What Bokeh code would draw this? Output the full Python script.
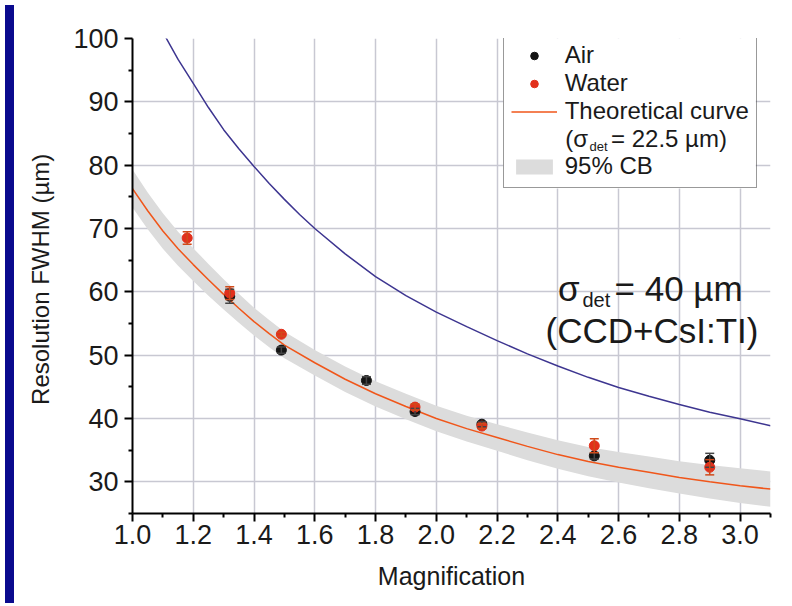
from bokeh.plotting import figure
from bokeh.models import (ColumnDataSource, Whisker, TeeHead, Legend, LegendItem, Label,
                          FixedTicker, Range1d, Div, BoxAnnotation)
from bokeh.layouts import row, column
from bokeh.embed import file_html
from bokeh.resources import INLINE

# ---------------- data ----------------
air_mag = [1.32, 1.49, 1.77, 1.93, 2.15, 2.52, 2.90]
air_fwhm = [59.3, 50.8, 46.0, 41.1, 39.1, 34.1, 33.4]
air_err = [1.1, 0.5, 0.6, 0.5, 0.4, 0.5, 1.1]

water_mag = [1.18, 1.32, 1.49, 1.93, 2.15, 2.52, 2.90]
water_fwhm = [68.5, 59.8, 53.3, 41.8, 38.8, 35.7, 32.3]
water_err = [1.0, 1.0, 0.3, 0.5, 0.4, 1.1, 1.2]

curve_mag = [1.0, 1.05, 1.1, 1.15, 1.2, 1.25, 1.3, 1.35, 1.4, 1.45, 1.5, 1.6, 1.7, 1.8, 1.9, 2.0,
             2.1, 2.2, 2.3, 2.4, 2.5, 2.6, 2.7, 2.8, 2.9, 3.0, 3.1]
theory_22 = [76.3, 72.8, 69.6, 66.8, 64.3, 61.9, 59.6, 57.4, 55.3, 53.4, 51.6, 48.8, 46.2, 43.9,
             41.9, 40.0, 38.4, 37.0, 35.6, 34.3, 33.2, 32.3, 31.5, 30.7, 30.0, 29.4, 28.85]
band_lower = [73.3, 69.9, 66.8, 64.1, 61.7, 59.4, 57.2, 55.1, 53.1, 51.25, 49.5, 46.8, 44.2, 41.9,
              39.9, 38.0, 36.35, 34.9, 33.4, 32.05, 30.9, 29.9, 29.0, 28.15, 27.35, 26.65, 26.05]
band_upper = [79.3, 75.7, 72.4, 69.5, 66.9, 64.4, 62.0, 59.7, 57.5, 55.55, 53.7, 50.8, 48.2, 45.9,
              43.9, 42.0, 40.45, 39.1, 37.8, 36.55, 35.5, 34.7, 34.0, 33.25, 32.65, 32.15, 31.65]

blue_mag = [1.10, 1.15, 1.2, 1.25, 1.3, 1.35, 1.4, 1.45, 1.5, 1.55, 1.6, 1.7, 1.8, 1.9, 2.0,
            2.1, 2.2, 2.3, 2.4, 2.5, 2.6, 2.7, 2.8, 2.9, 3.0, 3.1]
theory_40 = [101.0, 96.7, 92.9, 89.1, 85.6, 82.6, 79.8, 77.1, 74.6, 72.2, 70.0, 66.0, 62.4,
             59.4, 56.8, 54.5, 52.3, 50.2, 48.3, 46.5, 44.9, 43.5, 42.2, 41.0, 39.95, 38.85]

x_ticks = [1.0, 1.2, 1.4, 1.6, 1.8, 2.0, 2.2, 2.4, 2.6, 2.8, 3.0]
x_minor = [1.1, 1.3, 1.5, 1.7, 1.9, 2.1, 2.3, 2.5, 2.7, 2.9, 3.1]
y_ticks = [30, 40, 50, 60, 70, 80, 90, 100]
y_minor = [25, 35, 45, 55, 65, 75, 85, 95]

FONT = "Liberation Sans"
TXT = "#1a1a1a"
RED = "#e2301c"
CURVE_RED = "#f0561a"
BLUE = "#3d3590"
NAVY = "#0a0a8e"

W, H = 767, 598
p = figure(width=W, height=H, output_backend="svg", toolbar_location=None,
           x_range=Range1d(1.0, 3.1), y_range=Range1d(25, 100),
           min_border_left=113, min_border_right=16, min_border_top=38, min_border_bottom=85)
p.outline_line_color = None
p.background_fill_color = "white"
p.border_fill_color = "white"

# grid
p.xgrid.ticker = FixedTicker(ticks=x_ticks)
p.ygrid.ticker = FixedTicker(ticks=y_ticks)
for g in (p.xgrid, p.ygrid):
    g.grid_line_color = "#c8c8d2"
    g.grid_line_width = 1.5

# axes
p.xaxis.ticker = FixedTicker(ticks=x_ticks, minor_ticks=x_minor)
p.yaxis.ticker = FixedTicker(ticks=y_ticks, minor_ticks=y_minor)
p.xaxis.major_label_overrides = {t: f"{t:.1f}" for t in x_ticks}
for ax in (p.xaxis[0], p.yaxis[0]):
    ax.axis_line_color = "black"
    ax.axis_line_width = 2
    ax.major_tick_line_color = "black"
    ax.major_tick_line_width = 2
    ax.minor_tick_line_color = "black"
    ax.minor_tick_line_width = 2
    ax.major_tick_in = 0
    ax.major_tick_out = 8
    ax.minor_tick_in = 0
    ax.minor_tick_out = 4
    ax.major_label_text_font = FONT
    ax.major_label_text_font_size = "27px"
    ax.major_label_text_color = TXT
    ax.axis_label_text_font = FONT
    ax.axis_label_text_font_style = "normal"
    ax.axis_label_text_color = TXT
p.xaxis.major_label_standoff = 3
p.yaxis.major_label_standoff = 6
p.xaxis.axis_label = "Magnification"
p.xaxis.axis_label_text_font_size = "25px"
p.xaxis.axis_label_standoff = 15
p.yaxis.axis_label = "Resolution FWHM  (\u00b5m)"
p.yaxis.axis_label_text_font_size = "24px"
p.yaxis.axis_label_standoff = 16

FRAME_L, FRAME_B = 130.0, 513.3   # screen position of frame's left / bottom
LEG_L, LEG_R, LEG_T, LEG_B = 500.7, 753.3, 38.3, 188.3

# white background of the legend box (covers the grid)
p.add_layout(BoxAnnotation(left=LEG_L - FRAME_L, right=LEG_R - FRAME_L,
                           bottom=FRAME_B - LEG_B, top=FRAME_B - LEG_T,
                           left_units="screen", right_units="screen",
                           top_units="screen", bottom_units="screen",
                           fill_color="white", fill_alpha=1, line_alpha=0, level="underlay"))

# band + curves
band_src = ColumnDataSource(dict(x=curve_mag, lo=band_lower, hi=band_upper))
band_r = p.varea(x="x", y1="lo", y2="hi", source=band_src, fill_color="#dcdcdc")
red_r = p.line(curve_mag, theory_22, line_color=CURVE_RED, line_width=1.5)
p.line(blue_mag, theory_40, line_color=BLUE, line_width=1.5)

# points with error bars
air_src = ColumnDataSource(dict(x=air_mag, y=air_fwhm,
                                lo=[v - e for v, e in zip(air_fwhm, air_err)],
                                hi=[v + e for v, e in zip(air_fwhm, air_err)]))
water_src = ColumnDataSource(dict(x=water_mag, y=water_fwhm,
                                  lo=[v - e for v, e in zip(water_fwhm, water_err)],
                                  hi=[v + e for v, e in zip(water_fwhm, water_err)]))

air_r = p.scatter("x", "y", source=air_src, size=10, fill_color="#141414", line_color="#141414")
p.add_layout(Whisker(source=air_src, base="x", lower="lo", upper="hi", dimension="height",
                     line_color="#444444", line_width=1.5, level="glyph",
                     lower_head=TeeHead(size=9, line_color="#444444", line_width=1.5),
                     upper_head=TeeHead(size=9, line_color="#444444", line_width=1.5)))
water_r = p.scatter("x", "y", source=water_src, size=10, fill_color=RED, line_color=RED)
p.add_layout(Whisker(source=water_src, base="x", lower="lo", upper="hi", dimension="height",
                     line_color="#d04a1a", line_width=1.5, level="glyph",
                     lower_head=TeeHead(size=9, line_color="#d04a1a", line_width=1.5),
                     upper_head=TeeHead(size=9, line_color="#d04a1a", line_width=1.5)))

dummy_r = p.line([], [], line_alpha=0)

# legend (transparent, drawn over the white box)
legend = Legend(items=[
    LegendItem(label="Air", renderers=[air_r]),
    LegendItem(label="Water", renderers=[water_r]),
    LegendItem(label="Theoretical curve", renderers=[red_r]),
    LegendItem(label=" ", renderers=[dummy_r]),
    LegendItem(label="95% CB", renderers=[band_r]),
], location=(LEG_L - FRAME_L, FRAME_B - LEG_B))
legend.label_text_font = FONT
legend.label_text_font_size = "24px"
legend.label_text_color = TXT
legend.glyph_width = 46
legend.glyph_height = 19
legend.label_height = 27
legend.label_standoff = 8
legend.spacing = 0
legend.padding = 7
legend.margin = 0
legend.border_line_color = "#333333"
legend.border_line_width = 1
legend.background_fill_alpha = 0
p.add_layout(legend)


def screen_label(sx, baseline, text, size, align="left"):
    # the svg text anchor sits about a third of an em above the visual baseline
    sy = baseline - 0.33 * size
    p.add_layout(Label(x=sx - FRAME_L, y=FRAME_B - sy, x_units="screen", y_units="screen",
                       text=text, text_font=FONT, text_font_size=f"{size}px", text_color=TXT,
                       text_align=align, text_baseline="alphabetic", level="overlay"))


# second line of the legend entry: (sigma_det = 22.5 um)
screen_label(562.7, 146.7, "(\u03c3", 24)
screen_label(587.0, 150.5, "det", 13)
screen_label(608.5, 146.7, "= 22.5 \u00b5m)", 24)

# annotation sigma_det = 40 um (CCD+CsI:TI)
screen_label(555.5, 300.0, "\u03c3", 35)
screen_label(580.0, 306.7, "det", 20)
screen_label(612.0, 300.0, "= 40 \u00b5m", 35)
screen_label(649.5, 341.7, "(CCD+CsI:TI)", 35, align="center")

left_strip = Div(text="", width=9, height=H, styles={"background-color": NAVY})
layout = column(row(left_strip, p))

open("out.html", "w").write(file_html(layout, INLINE))
